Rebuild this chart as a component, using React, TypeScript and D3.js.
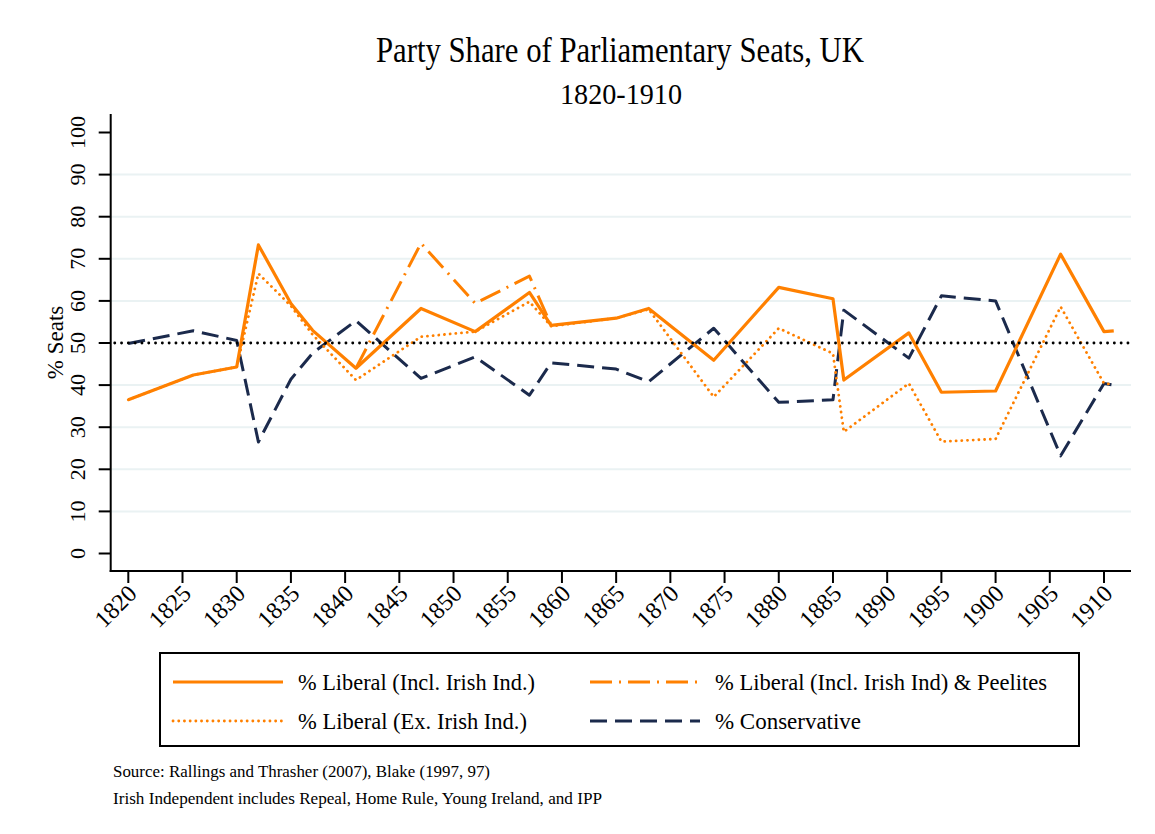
import React from "react";
import * as d3 from "d3";

// ---- Data ----
const years = [1820, 1826, 1830, 1832, 1835, 1837, 1841, 1847, 1852, 1857, 1859, 1865, 1868, 1874, 1880, 1885, 1886, 1892, 1895, 1900, 1906, 1910, 1910.9];
const liberalInclIrish = [36.5, 42.4, 44.3, 73.3, 59.4, 53.0, 44.0, 58.2, 52.7, 62.0, 54.2, 55.9, 58.2, 45.9, 63.2, 60.5, 41.2, 52.4, 38.3, 38.6, 71.1, 52.7, 52.9];
const liberalExIrish = [36.5, 42.4, 44.3, 66.5, 58.8, 52.0, 41.2, 51.5, 52.7, 59.8, 54.0, 55.9, 58.0, 37.2, 53.5, 47.5, 28.9, 40.4, 26.6, 27.2, 58.6, 40.4, 40.2];
const conservative = [49.9, 52.9, 50.6, 26.5, 41.4, 47.6, 55.3, 41.6, 46.7, 37.6, 45.3, 43.8, 40.8, 53.5, 35.9, 36.5, 57.8, 46.4, 61.2, 60.0, 23.2, 40.4, 40.0];
const peeliteYears = [1841, 1847, 1852, 1857, 1859];
const liberalPeelites = [44.0, 73.7, 59.4, 65.9, 54.2];

const xTicks = d3.range(1820, 1911, 5);
const yTicks = d3.range(0, 101, 10);
const gridValues = [10, 20, 30, 40, 60, 70, 80, 90];
const refValue = 50;

const title = "Party Share of Parliamentary Seats, UK";
const subtitle = "1820-1910";
const yTitle = "% Seats";
const legendLabels = [
  "% Liberal (Incl. Irish Ind.)",
  "% Liberal (Incl. Irish Ind) & Peelites",
  "% Liberal (Ex. Irish Ind.)",
  "% Conservative",
];
const notes = [
  "Source: Rallings and Thrasher (2007), Blake (1997, 97)",
  "Irish Independent includes Repeal, Home Rule, Young Ireland, and IPP",
];

// ---- Layout ----
const W = 1155;
const H = 834;
const plotLeft = 110.7;
const plotRight = 1131;
const plotTop = 114;
const plotBottom = 571;
const ORANGE = "#FF8000";
const NAVY = "#1B2A4C";
const FONT = "'Liberation Serif', 'Times New Roman', serif";

const x = d3.scaleLinear().domain([1820, 1910]).range([128.3, 1104]);
const y = d3.scaleLinear().domain([0, 100]).range([553.5, 132.5]);

const lineGen = d3
  .line<[number, number]>()
  .x((d) => x(d[0]))
  .y((d) => y(d[1]));

const zipS = (xs: number[], vs: number[]) => xs.map((v, i) => [v, vs[i]] as [number, number]);

const styles = {
  solid: { stroke: ORANGE, strokeWidth: 3.2, dash: undefined as string | undefined, cap: "butt" },
  peel: { stroke: ORANGE, strokeWidth: 3, dash: "22 7 2 7", cap: "butt" },
  ex: { stroke: ORANGE, strokeWidth: 2.8, dash: "0.1 5.6", cap: "round" },
  cons: { stroke: NAVY, strokeWidth: 3, dash: "17 8", cap: "butt" },
};

export default function App() {
  const series = [
    { d: zipS(years, conservative), s: styles.cons },
    { d: zipS(years, liberalExIrish), s: styles.ex },
    { d: zipS(peeliteYears, liberalPeelites), s: styles.peel },
    { d: zipS(years, liberalInclIrish), s: styles.solid },
  ];
  const legendItems = [
    { label: legendLabels[0], s: styles.solid, lx: 173, ty: 682, tl: 237 },
    { label: legendLabels[1], s: styles.peel, lx: 590, ty: 682, tl: 332 },
    { label: legendLabels[2], s: styles.ex, lx: 173, ty: 721, tl: 229 },
    { label: legendLabels[3], s: styles.cons, lx: 590, ty: 721, tl: 146 },
  ];
  return (
    <svg
      width={W}
      height={H}
      style={{ position: "absolute", left: 0, top: 0, background: "#fff" }}
      fontFamily={FONT}
    >
      <rect x={0} y={0} width={W} height={H} fill="#fff" />
      {/* Title */}
      <text x={620} y={62} textAnchor="middle" fontSize={36} textLength={488} lengthAdjust="spacingAndGlyphs">
        {title}
      </text>
      <text x={621} y={104} textAnchor="middle" fontSize={30} textLength={122} lengthAdjust="spacingAndGlyphs">
        {subtitle}
      </text>

      {/* Grid */}
      {gridValues.map((v) => (
        <line key={v} x1={plotLeft} x2={plotRight} y1={y(v)} y2={y(v)} stroke="#EAF2F3" strokeWidth={2} />
      ))}

      {/* Series */}
      {series.map((sr, i) => (
        <path
          key={i}
          d={lineGen(sr.d) || ""}
          fill="none"
          stroke={sr.s.stroke}
          strokeWidth={sr.s.strokeWidth}
          strokeDasharray={sr.s.dash}
          strokeLinecap={sr.s.cap as any}
          strokeLinejoin="round"
        />
      ))}

      {/* 50% reference line */}
      <line
        x1={plotLeft + 4}
        x2={plotRight}
        y1={y(refValue)}
        y2={y(refValue)}
        stroke="#000"
        strokeWidth={2.8}
        strokeDasharray="0.1 6.7"
        strokeLinecap="round"
      />

      {/* Axes */}
      <line x1={plotLeft} x2={plotLeft} y1={plotTop} y2={plotBottom + 1} stroke="#000" strokeWidth={2} />
      <line x1={plotLeft - 1} x2={plotRight} y1={plotBottom} y2={plotBottom} stroke="#000" strokeWidth={2} />
      {yTicks.map((v) => (
        <g key={v}>
          <line x1={plotLeft - 12} x2={plotLeft} y1={y(v)} y2={y(v)} stroke="#000" strokeWidth={2} />
          <text
            transform={`translate(85,${y(v)}) rotate(-90)`}
            textAnchor="middle"
            fontSize={22}
          >
            {v}
          </text>
        </g>
      ))}
      {xTicks.map((v) => (
        <g key={v}>
          <line x1={x(v)} x2={x(v)} y1={plotBottom} y2={plotBottom + 12} stroke="#000" strokeWidth={2} />
          <text
            transform={`translate(${x(v) + 4},${plotBottom + 18}) rotate(-45)`}
            textAnchor="end"
            dy="0.35em"
            fontSize={24}
          >
            {v}
          </text>
        </g>
      ))}
      <text transform={`translate(63,${(plotTop + plotBottom) / 2}) rotate(-90)`} textAnchor="middle" fontSize={23}>
        {yTitle}
      </text>

      {/* Legend */}
      <rect x={160} y={653} width={919} height={93} fill="#fff" stroke="#000" strokeWidth={2} />
      {legendItems.map((it, i) => (
        <g key={i}>
          <line
            x1={it.lx}
            x2={it.lx + 110}
            y1={it.ty}
            y2={it.ty}
            stroke={it.s.stroke}
            strokeWidth={it.s.strokeWidth}
            strokeDasharray={it.s.dash}
            strokeLinecap={it.s.cap as any}
          />
          <text
            x={it.lx + 125}
            y={it.ty + 8}
            fontSize={24}
            textLength={it.tl}
            lengthAdjust="spacingAndGlyphs"
          >
            {it.label}
          </text>
        </g>
      ))}

      {/* Notes */}
      <text x={113} y={777} fontSize={17} textLength={377} lengthAdjust="spacingAndGlyphs">
        {notes[0]}
      </text>
      <text x={113} y={804} fontSize={17} textLength={489} lengthAdjust="spacingAndGlyphs">
        {notes[1]}
      </text>
    </svg>
  );
}
